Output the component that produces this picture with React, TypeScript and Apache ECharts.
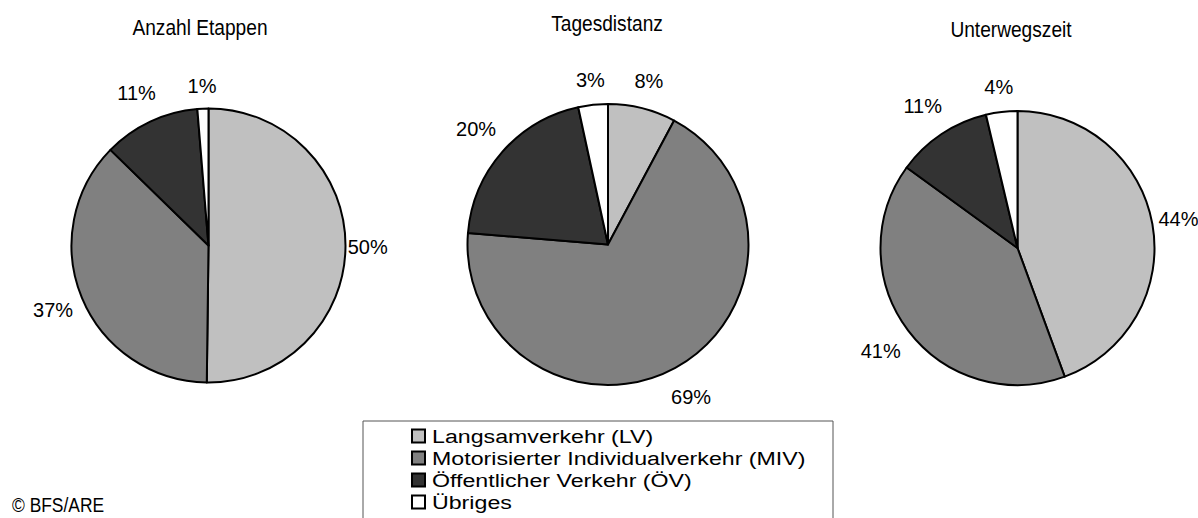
import React, { useEffect, useRef } from "react";
import * as echarts from "echarts";

// ---- data ----
const categories = [
  "Langsamverkehr (LV)",
  "Motorisierter Individualverkehr (MIV)",
  "Öffentlicher Verkehr (ÖV)",
  "Übriges",
];
const chartTitles = ["Anzahl Etappen", "Tagesdistanz", "Unterwegszeit"];
const anzahlEtappen = [50.2, 37.1, 11.4, 1.3];
const tagesdistanz = [7.8, 68.5, 20.3, 3.4];
const unterwegszeit = [44.4, 40.6, 11.3, 3.7];
const sourceNote = "© BFS/ARE";

// ---- styles / layout ----
const sliceColors = ["#c0c0c0", "#808080", "#333333", "#ffffff"];
const pies = [
  { values: anzahlEtappen, cx: 208.5, cy: 245.5, r: 137, titleX: 200, titleY: 27 },
  { values: tagesdistanz, cx: 608, cy: 244.5, r: 140.5, titleX: 607, titleY: 23 },
  { values: unterwegszeit, cx: 1017.5, cy: 248, r: 137, titleX: 1011, titleY: 29 },
];
const FONT = '"Liberation Sans", Arial, sans-serif';

export default function App() {
  const ref = useRef<HTMLDivElement>(null);

  useEffect(() => {
    if (!ref.current) return;
    const chart = echarts.init(ref.current, null, { renderer: "svg" });

    const series = pies.map((p) => {
      const total = p.values.reduce((a, b) => a + b, 0);
      return {
        type: "pie",
        center: [p.cx, p.cy],
        radius: p.r,
        startAngle: 90,
        clockwise: true,
        avoidLabelOverlap: false,
        silent: true,
        emphasis: { disabled: true },
        itemStyle: { borderColor: "#000", borderWidth: 2 },
        label: {
          show: true,
          position: "outside",
          formatter: (prm: any) => Math.round(prm.value) + "%",
          fontFamily: FONT,
          fontSize: 20,
          color: "#000",
        },
        labelLine: { show: false },
        labelLayout: (prm: any) => {
          let cum = 0;
          for (let k = 0; k < prm.dataIndex; k++) cum += p.values[k];
          const mid = ((cum + p.values[prm.dataIndex] / 2) / total) * Math.PI * 2;
          const d = p.r + 22 + 13 * Math.abs(Math.sin(2 * mid));
          return {
            x: p.cx + d * Math.sin(mid),
            y: p.cy - d * Math.cos(mid),
            align: "center",
            verticalAlign: "middle",
          };
        },
        data: categories.map((name, i) => ({
          name,
          value: p.values[i],
          itemStyle: { color: sliceColors[i] },
        })),
      };
    });

    const graphics: any[] = [];
    pies.forEach((p, i) => {
      graphics.push({
        type: "text",
        x: p.titleX,
        y: p.titleY,
        scaleX: 0.87,
        style: {
          text: chartTitles[i],
          font: `22px ${FONT}`,
          fill: "#000",
          textAlign: "center",
          textVerticalAlign: "middle",
        },
      });
    });
    // legend box
    graphics.push({
      type: "rect",
      shape: { x: 363, y: 421, width: 470, height: 120 },
      style: { fill: "none", stroke: "#555", lineWidth: 1 },
    });
    categories.forEach((name, i) => {
      const y = 436 + i * 22;
      graphics.push({
        type: "rect",
        shape: { x: 412, y: y - 6.5, width: 13, height: 13 },
        style: { fill: sliceColors[i], stroke: "#000", lineWidth: 2 },
      });
      graphics.push({
        type: "text",
        x: 432,
        y: y,
        scaleX: 1.22,
        style: {
          text: name,
          font: `19px ${FONT}`,
          fill: "#000",
          textVerticalAlign: "middle",
        },
      });
    });
    graphics.push({
      type: "text",
      x: 12,
      y: 505,
      scaleX: 0.87,
      style: {
        text: sourceNote,
        font: `20px ${FONT}`,
        fill: "#000",
        textVerticalAlign: "middle",
      },
    });

    chart.setOption({
      animation: false,
      backgroundColor: "#fff",
      series,
      graphic: graphics,
    });

    return () => chart.dispose();
  }, []);

  return (
    <div
      ref={ref}
      style={{ position: "fixed", left: 0, top: 0, width: 1198, height: 518 }}
    />
  );
}
